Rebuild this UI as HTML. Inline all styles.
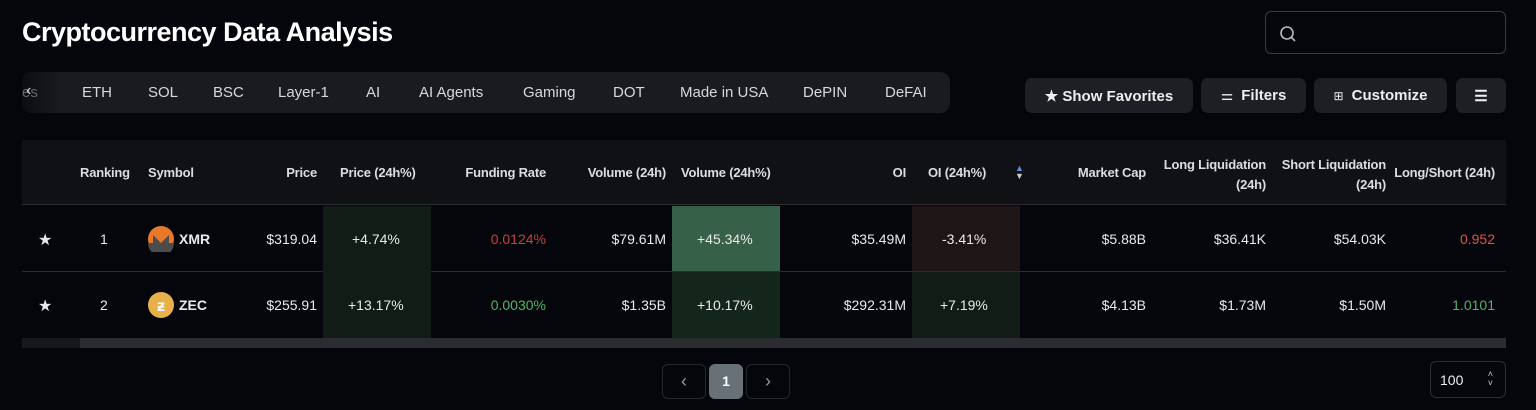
<!DOCTYPE html>
<html><head><meta charset="utf-8"><style>
*{box-sizing:border-box;margin:0;padding:0}
body{width:1536px;height:410px;background:#05060b;font-family:"Liberation Sans",sans-serif;color:#e8e8ea;position:relative;overflow:hidden}
.a{position:absolute;white-space:nowrap}
.h{font-size:13px;font-weight:bold;color:#dcdde0;letter-spacing:-0.2px}
.c{font-size:14px;color:#eaeaec}
.r{text-align:right}
.btn{position:absolute;top:78px;height:35px;background:#1e1f24;border-radius:7px;font-size:15px;font-weight:bold;color:#eee;display:flex;align-items:center;justify-content:center;gap:8px}
</style></head><body>
<div class="a" style="left:22px;top:17px;font-size:27px;font-weight:bold;color:#fff;letter-spacing:-0.5px">Cryptocurrency Data Analysis</div>
<div class="a" style="left:1265px;top:11px;width:241px;height:43px;border:1px solid #3a3b40;border-radius:6px"></div>
<svg class="a" style="left:1279px;top:25px" width="18" height="18"><circle cx="8" cy="8" r="6" fill="none" stroke="#bbb" stroke-width="1.6"/><line x1="12.5" y1="12.5" x2="16" y2="16" stroke="#bbb" stroke-width="1.6"/></svg>
<div class="a" style="left:22px;top:72px;width:928px;height:41px;background:#1a1b20;border-radius:10px"></div>
<div class="a" style="left:22px;top:72px;width:40px;height:41px;background:linear-gradient(90deg,#0c0d11,#1a1b20);border-radius:10px 0 0 10px"></div>
<div class="a" style="left:22px;top:84px;font-size:15px;color:#666">es</div>
<div class="a" style="left:26px;top:82px;font-size:16px;color:#ddd">‹</div>
<div class="a" style="top:84px;left:82px;font-size:15px;color:#d8d8da">ETH</div>
<div class="a" style="top:84px;left:148px;font-size:15px;color:#d8d8da">SOL</div>
<div class="a" style="top:84px;left:213px;font-size:15px;color:#d8d8da">BSC</div>
<div class="a" style="top:84px;left:278px;font-size:15px;color:#d8d8da">Layer-1</div>
<div class="a" style="top:84px;left:366px;font-size:15px;color:#d8d8da">AI</div>
<div class="a" style="top:84px;left:419px;font-size:15px;color:#d8d8da">AI Agents</div>
<div class="a" style="top:84px;left:523px;font-size:15px;color:#d8d8da">Gaming</div>
<div class="a" style="top:84px;left:613px;font-size:15px;color:#d8d8da">DOT</div>
<div class="a" style="top:84px;left:680px;font-size:15px;color:#d8d8da">Made in USA</div>
<div class="a" style="top:84px;left:803px;font-size:15px;color:#d8d8da">DePIN</div>
<div class="a" style="top:84px;left:885px;font-size:15px;color:#d8d8da">DeFAI</div>
<div class="btn" style="left:1025px;width:168px">★ Show Favorites</div>
<div class="btn" style="left:1201px;width:105px"><span style="font-size:14px;font-weight:normal">⚌</span>Filters</div>
<div class="btn" style="left:1314px;width:133px"><span style="font-size:12px;font-weight:normal">⊞</span>Customize</div>
<div class="btn" style="left:1456px;width:50px">☰</div>
<div class="a" style="left:22px;top:140px;width:1484px;height:65px;background:#101115;border-bottom:1px solid #2c2d32"></div>
<div class="a" style="left:22px;top:271px;width:1484px;height:1px;background:#2c2d32"></div>
<div class="a" style="left:323px;top:206px;width:108px;height:132px;background:#111c16"></div>
<div class="a" style="left:672px;top:206px;width:108px;height:65px;background:#376048"></div>
<div class="a" style="left:672px;top:272px;width:108px;height:66px;background:#14251b"></div>
<div class="a" style="left:912px;top:206px;width:108px;height:65px;background:#1e1517"></div>
<div class="a" style="left:912px;top:272px;width:108px;height:66px;background:#111c16"></div>
<div class="a" style="left:22px;top:338px;width:1484px;height:10px;background:#2b2c30"></div>
<div class="a" style="left:22px;top:338px;width:58px;height:10px;background:#17181c"></div>
<div class="a h" style="left:80px;top:165px">Ranking</div>
<div class="a h" style="left:148px;top:165px">Symbol</div>
<div class="a h r" style="right:1219px;top:165px">Price</div>
<div class="a h" style="left:340px;top:165px">Price (24h%)</div>
<div class="a h r" style="right:990px;top:165px">Funding Rate</div>
<div class="a h r" style="right:870px;top:165px">Volume (24h)</div>
<div class="a h" style="left:681px;top:165px">Volume (24h%)</div>
<div class="a h r" style="right:630px;top:165px">OI</div>
<div class="a h" style="left:928px;top:165px">OI (24h%)</div>
<div class="a" style="left:1015px;top:164px;font-size:9px;line-height:8px;color:#5a8fe0">▲<br><span style="color:#ccc">▼</span></div>
<div class="a h r" style="right:390px;top:165px">Market Cap</div>
<div class="a h r" style="right:270px;top:155px;line-height:20px">Long Liquidation<br>(24h)</div>
<div class="a h r" style="right:150px;top:155px;line-height:20px">Short Liquidation<br>(24h)</div>
<div class="a h r" style="right:41px;top:165px">Long/Short (24h)</div>

<div class="a" style="left:38px;top:230px;font-size:16px">★</div>
<div class="a c" style="left:100px;top:231px">1</div>
<svg class="a" style="left:148px;top:226px" width="26" height="26"><circle cx="13" cy="13" r="13" fill="#e8782a"/><path d="M0 17 L5 17 L5 9 L13 17 L21 9 L21 17 L26 17 A13 13 0 0 1 0 17Z" fill="#4c4c4c"/></svg>
<div class="a c" style="left:179px;top:231px;font-weight:bold">XMR</div>
<div class="a c r" style="right:1219px;top:231px">$319.04</div>
<div class="a c" style="left:352px;top:231px">+4.74%</div>
<div class="a c r" style="right:990px;top:231px;color:#c0443c">0.0124%</div>
<div class="a c r" style="right:870px;top:231px">$79.61M</div>
<div class="a c" style="left:697px;top:231px">+45.34%</div>
<div class="a c r" style="right:630px;top:231px">$35.49M</div>
<div class="a c" style="left:942px;top:231px">-3.41%</div>
<div class="a c r" style="right:390px;top:231px">$5.88B</div>
<div class="a c r" style="right:270px;top:231px">$36.41K</div>
<div class="a c r" style="right:150px;top:231px">$54.03K</div>
<div class="a c r" style="right:41px;top:231px;color:#e0524a">0.952</div>

<div class="a" style="left:38px;top:296px;font-size:16px">★</div>
<div class="a c" style="left:100px;top:297px">2</div>
<svg class="a" style="left:148px;top:292px" width="26" height="26"><circle cx="13" cy="13" r="13" fill="#e8b04a"/><text x="13" y="19" font-size="16" font-weight="bold" fill="#fff" text-anchor="middle" font-family="Liberation Sans">ƶ</text></svg>
<div class="a c" style="left:179px;top:297px;font-weight:bold">ZEC</div>
<div class="a c r" style="right:1219px;top:297px">$255.91</div>
<div class="a c" style="left:348px;top:297px">+13.17%</div>
<div class="a c r" style="right:990px;top:297px;color:#4fb56a">0.0030%</div>
<div class="a c r" style="right:870px;top:297px">$1.35B</div>
<div class="a c" style="left:697px;top:297px">+10.17%</div>
<div class="a c r" style="right:630px;top:297px">$292.31M</div>
<div class="a c" style="left:940px;top:297px">+7.19%</div>
<div class="a c r" style="right:390px;top:297px">$4.13B</div>
<div class="a c r" style="right:270px;top:297px">$1.73M</div>
<div class="a c r" style="right:150px;top:297px">$1.50M</div>
<div class="a c r" style="right:41px;top:297px;color:#4fb56a">1.0101</div>

<div class="a" style="left:662px;top:364px;width:44px;height:35px;border:1px solid #26272c;border-radius:6px;text-align:center;line-height:33px;color:#999;font-size:18px">‹</div>
<div class="a" style="left:709px;top:364px;width:34px;height:35px;background:#687078;border-radius:6px;text-align:center;line-height:35px;color:#fff;font-size:14px;font-weight:bold">1</div>
<div class="a" style="left:746px;top:364px;width:44px;height:35px;border:1px solid #26272c;border-radius:6px;text-align:center;line-height:33px;color:#999;font-size:18px">›</div>
<div class="a" style="left:1430px;top:361px;width:76px;height:37px;border:1px solid #2c2d32;border-radius:6px;font-size:14px;color:#eee;padding:10px 0 0 9px">100<span style="position:absolute;right:12px;top:8px;font-size:9px;line-height:9px;color:#ccc">˄<br>˅</span></div>
</body></html>
